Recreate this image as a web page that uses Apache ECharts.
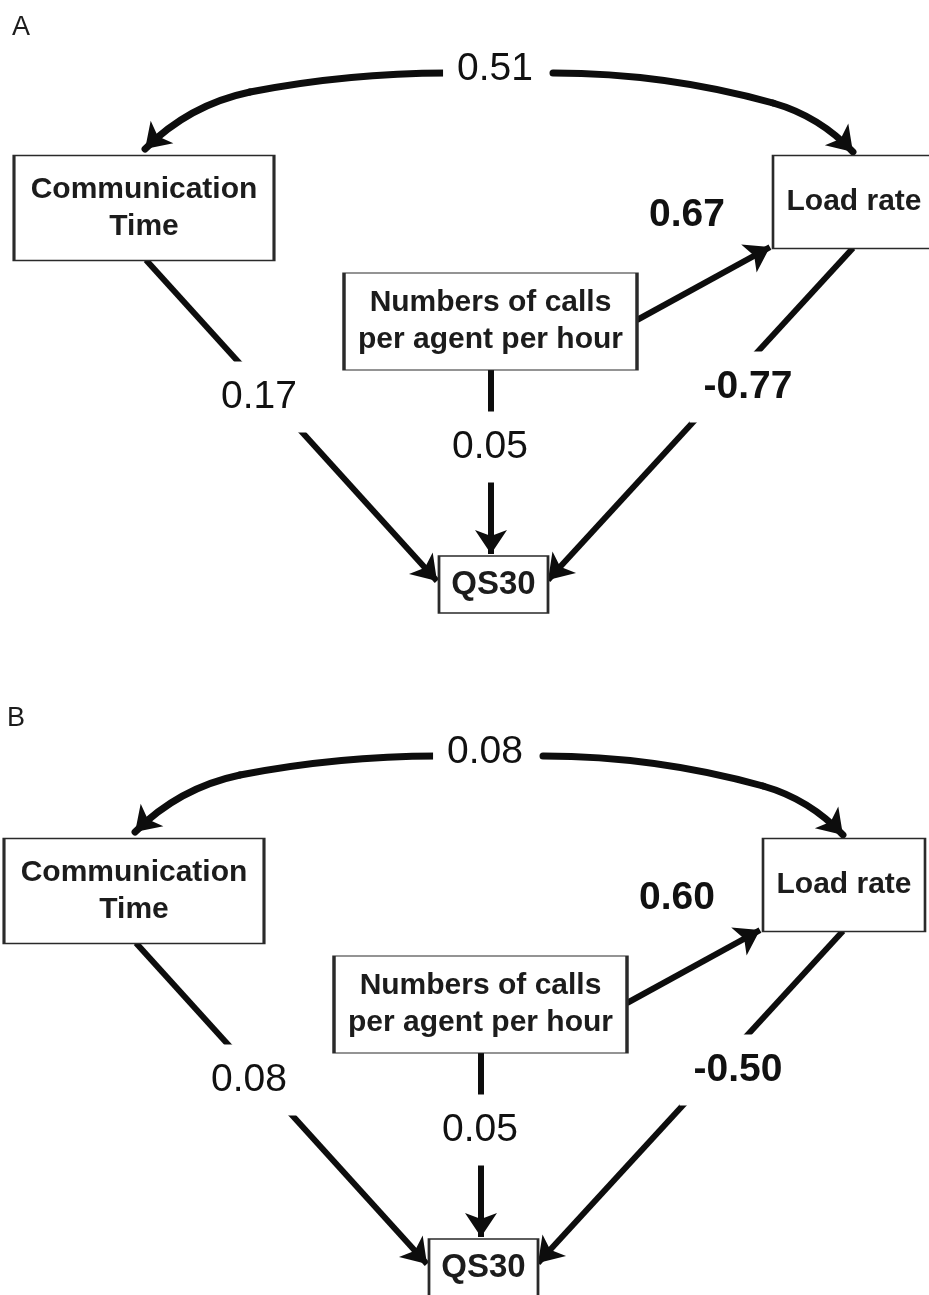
<!DOCTYPE html>
<html>
<head>
<meta charset="utf-8">
<title>Path diagram QS30</title>
<script src="https://cdn.jsdelivr.net/npm/echarts@6/dist/echarts.min.js"></script>
<style>
  html, body { margin: 0; padding: 0; background: #fff; }
  #chart { width: 929px; height: 1295px; }
</style>
</head>
<body>
<div id="chart"></div>
<script>
// values
const panelNames = ['A', 'B'];
const variables = ['Communication\nTime', 'Load rate', 'Numbers of calls\nper agent per hour', 'QS30'];
// path order: CT <-> LR, Calls -> LR, CT -> QS30, Calls -> QS30, LR -> QS30
const coefA = [0.51, 0.67, 0.17, 0.05, -0.77];
const coefB = [0.08, 0.60, 0.08, 0.05, -0.50];
const significantA = [false, true, false, false, true];
const significantB = [false, true, false, false, true];

// layout, in pixels of panel A (panel B is the same drawing, shifted)
const panelShift = [[0, 0], [-10, 683]];
const letterPos = [[12, 14], [7, 705]];
const boxLayout = {
  'Communication\nTime': [144, 208, 260, 105],
  'Load rate': [854, 202, 162, 93],
  'Numbers of calls\nper agent per hour': [490.5, 321.5, 293, 97],
  'QS30': [493.5, 584.5, 109, 57]
};
// every path = chains of points (arrow tip last) + curveness of each piece
const pathLayout = [
  [{ pts: [[447, 73], [250, 92], [145, 149]], curv: [-0.048, -0.149] },
   { pts: [[553, 73], [773, 103], [853, 152]], curv: [0.0685, 0.139] }],
  [{ pts: [[637, 320], [770, 247]], curv: [0] }],
  [{ pts: [[146, 260], [437, 581]], curv: [0] }],
  [{ pts: [[491, 370], [491, 554]], curv: [0] }],
  [{ pts: [[853, 248], [548, 580]], curv: [0] }]
];
const labelPos = [[495, 69], [687, 215], [259, 397], [490, 447], [748, 387]];

const FONT = '"Liberation Sans", Arial, sans-serif';
const INK = '#1c1c1c';

let myChart = echarts.init(document.getElementById('chart'));

let series = [];
let coefData = [];

panelNames.forEach((p, pi) => {
  const dx = panelShift[pi][0];
  const dy = panelShift[pi][1];
  const coef = pi === 0 ? coefA : coefB;
  const sig = pi === 0 ? significantA : significantB;

  // boxes
  let nodes = variables.map((v) => {
    const b = boxLayout[v];
    return {
      name: v,
      value: [b[0] + dx, b[1] + dy],
      symbol: 'rect',
      symbolSize: [b[2], b[3]],
      label: v === 'QS30' ? { fontSize: 33 } : {}
    };
  });

  // hidden anchor points for the arrows
  let links = [];
  pathLayout.forEach((chains, k) => {
    chains.forEach((ch, ci) => {
      const curved = ch.pts.length > 2;
      ch.pts.forEach((pt, j) => {
        const id = p + k + '.' + ci + '.' + j;
        nodes.push({
          name: id,
          value: [pt[0] + dx, pt[1] + dy],
          symbol: 'circle',
          // tiny, not 0: graph's edge trimming misbehaves on curves with radius 0
          symbolSize: 0.1,
          itemStyle: { color: 'rgba(0,0,0,0)', borderWidth: 0 },
          label: { show: false }
        });
        if (j > 0) {
          links.push({
            source: p + k + '.' + ci + '.' + (j - 1),
            target: id,
            symbol: ['none', j === ch.pts.length - 1 ? 'arrow' : 'none'],
            lineStyle: {
              curveness: ch.curv[j - 1],
              width: curved ? 7 : 6,
              cap: curved ? 'round' : 'butt'
            }
          });
        }
      });
    });
  });

  series.push({
    type: 'graph',
    coordinateSystem: 'cartesian2d',
    layout: 'none',
    silent: true,
    z: 2,
    edgeSymbolSize: 24,
    itemStyle: { color: '#fff', borderColor: '#2a2a2a', borderWidth: 2 },
    label: {
      show: true,
      position: 'inside',
      color: INK,
      fontFamily: FONT,
      fontWeight: 'bold',
      fontSize: 30,
      lineHeight: 37
    },
    lineStyle: { color: '#0d0d0d', width: 6, opacity: 1 },
    emphasis: { disabled: true },
    data: nodes,
    links: links
  });

  // path coefficients
  coef.forEach((c, k) => {
    coefData.push({
      value: [labelPos[k][0] + dx, labelPos[k][1] + dy],
      text: c.toFixed(2),
      label: { fontWeight: sig[k] ? 'bold' : 'normal' }
    });
  });
});

series.push({
  type: 'scatter',
  z: 10,
  silent: true,
  symbolSize: 1,
  itemStyle: { color: 'rgba(0,0,0,0)', opacity: 1 },
  label: {
    show: true,
    position: 'inside',
    formatter: (params) => params.data.text,
    color: '#111',
    opacity: 1,
    fontFamily: FONT,
    fontSize: 39,
    backgroundColor: '#fff',
    padding: [16, 14]
  },
  emphasis: { disabled: true },
  data: coefData
});

let option = {
  animation: false,
  backgroundColor: '#fff',
  title: panelNames.map((p, pi) => ({
    text: p,
    left: letterPos[pi][0],
    top: letterPos[pi][1],
    padding: 0,
    textStyle: { fontSize: 27, fontWeight: 'normal', color: INK, fontFamily: FONT }
  })),
  grid: { left: 0, right: 0, top: 0, bottom: 0, containLabel: false },
  xAxis: { type: 'value', min: 0, max: 929, show: false },
  yAxis: { type: 'value', min: 0, max: 1295, inverse: true, show: false },
  series: series
};

myChart.setOption(option);
window.addEventListener('resize', function () {
  myChart.resize();
});
</script>
</body>
</html>
